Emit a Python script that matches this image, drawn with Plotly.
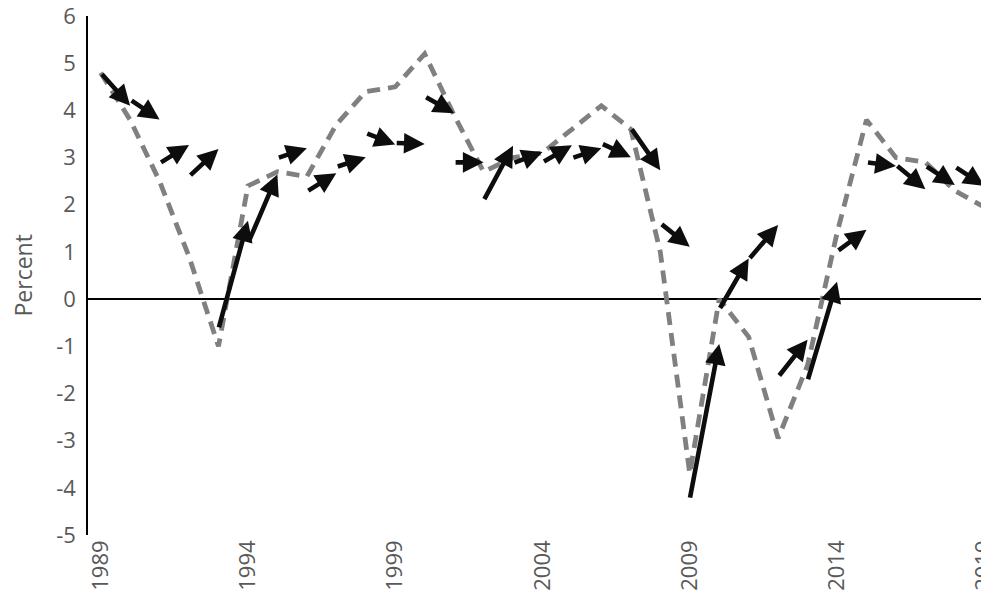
import plotly.graph_objects as go

years = list(range(1989, 2020))
actual = [4.8, 3.8, 2.5, 0.9, -1.0, 2.4, 2.7, 2.6, 3.7, 4.4, 4.5, 5.2, 3.9, 2.7, 3.0,
          3.1, 3.6, 4.1, 3.6, 1.0, -3.7, 0.0, -0.8, -2.95, -1.4, 1.4, 3.8, 3.0, 2.9, 2.3, 1.95]

# forecast arrows: start year, value at start, value one year later
fc_years = list(range(1989, 2019))
fc_start = [4.8, 4.23, 2.88, 2.6, -0.63, 1.18, 2.99, 2.28, 2.8, 3.52, 3.31, 4.3, 2.9, 2.09, 2.88,
            2.9, 2.99, 3.3, 3.63, 1.61, -4.24, -0.22, 0.84, -1.65, -1.73, 1.01, 2.9, 2.85, 2.83, 2.81]
fc_end = [4.1, 3.81, 3.27, 3.18, 1.66, 2.64, 3.2, 2.67, 3.01, 3.28, 3.29, 3.94, 2.9, 3.25, 3.12,
          3.26, 3.2, 3.01, 2.73, 1.11, -0.95, 0.86, 1.57, -0.86, 0.37, 1.47, 2.82, 2.33, 2.42, 2.4]

x_ticks = [1989, 1994, 1999, 2004, 2009, 2014, 2019]
y_ticks = list(range(-5, 7))
y_ticktext = [str(v) for v in y_ticks]  # plain hyphen minus

font_family = "Open Sans"
grey = "#595959"

# page has an 8px body margin, so the figure is sized to fill the rest of the window
W, H = 981, 597
ML, MT, MB = 80, 8, 70
plot_w = W - ML

fig = go.Figure()
fig.add_trace(go.Scatter(
    x=years, y=actual, mode="lines",
    line=dict(color="#808080", width=4.8, dash="13px,8px"),
    showlegend=False, hoverinfo="skip",
))

annotations = []
for yr, s, e in zip(fc_years, fc_start, fc_end):
    annotations.append(dict(
        x=yr + 1, y=e, ax=yr, ay=s,
        xref="x", yref="y", axref="x", ayref="y",
        showarrow=True, arrowhead=2, arrowsize=0.9, arrowwidth=4.6,
        arrowcolor="#0d0d0d", text="", standoff=0, startstandoff=0,
    ))

annotations.append(dict(
    text="Percent", xref="paper", yref="paper",
    x=(14 - ML) / plot_w, y=0.5, xanchor="center", yanchor="middle",
    textangle=-90, showarrow=False,
    font=dict(family=font_family, size=23, color=grey),
))

fig.update_layout(
    width=W, height=H,
    margin=dict(l=ML, r=0, t=MT, b=MB, autoexpand=False),
    paper_bgcolor="white", plot_bgcolor="white",
    font=dict(family=font_family, size=22, color=grey),
    annotations=annotations,
    showlegend=False,
)
fig.update_xaxes(
    range=[1988.57, 2019.16], automargin=False,
    tickmode="array", tickvals=x_ticks, ticktext=[str(t) for t in x_ticks],
    tickangle=-90, showgrid=False, zeroline=False, showline=False, ticks="",
    ticklabeloverflow="allow",
    tickfont=dict(family=font_family, size=22, color=grey),
)
fig.update_yaxes(
    range=[-5, 6.002], automargin=False,
    tickmode="array", tickvals=y_ticks, ticktext=y_ticktext,
    showgrid=False, zeroline=True, zerolinecolor="black", zerolinewidth=1.5,
    showline=True, linecolor="black", linewidth=1.5, ticks="",
    ticklabelstandoff=6, ticklabeloverflow="allow",
    tickfont=dict(family=font_family, size=22, color=grey),
)

fig.write_html("out.html")
